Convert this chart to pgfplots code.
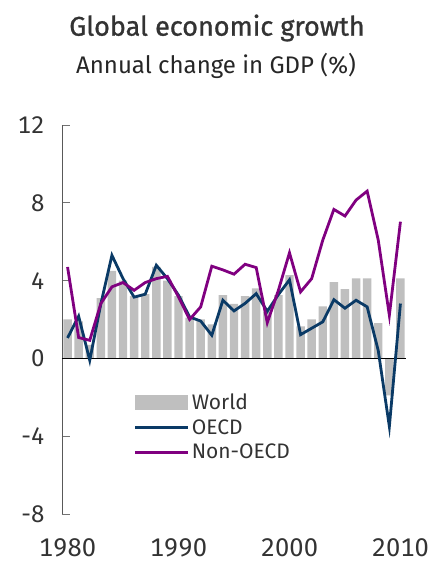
\documentclass[border=0pt]{standalone}
\usepackage{fontspec}
\setmainfont{Fira Sans}
\newfontfamily\titlefont{Fira Sans}[FakeBold=1.0]
\newfontfamily\tickfont{Fira Sans}[Numbers=Monospaced]
\usepackage{pgfplots}
\pgfplotsset{compat=1.18}
\usepackage{pgfplotstable}
\definecolor{barGrey}{HTML}{BFBFBF}
\definecolor{oecdBlue}{HTML}{0A3A66}
\definecolor{nonPurple}{HTML}{800080}
\definecolor{txtGrey}{HTML}{333333}
\pgfplotstableread{
year world oecd non
1980 2.0 1.05 4.7
1981 1.9 2.17 1.07
1982 0.7 -0.1 0.93
1983 3.1 2.8 2.82
1984 4.5 5.3 3.68
1985 4.0 4.1 3.9
1986 3.2 3.15 3.5
1987 3.3 3.3 3.9
1988 4.7 4.79 4.1
1989 4.0 4.1 4.22
1990 3.2 3.25 3.16
1991 2.1 2.13 2.0
1992 2.0 1.92 2.65
1993 1.75 1.19 4.74
1994 3.25 2.99 4.55
1995 2.8 2.44 4.33
1996 3.2 2.83 4.84
1997 3.6 3.33 4.67
1998 2.4 2.42 1.84
1999 3.25 3.28 3.5
2000 4.28 4.04 5.43
2001 1.65 1.22 3.42
2002 2.0 1.55 4.1
2003 2.68 1.88 6.08
2004 3.92 3.02 7.66
2005 3.56 2.58 7.32
2006 4.12 2.99 8.14
2007 4.12 2.65 8.6
2008 1.82 0.4 6.08
2009 -1.9 -3.5 2.22
2010 4.12 2.82 7.03
}\gdp
\begin{document}
\begin{tikzpicture}
\useasboundingbox (-62pt,-51pt) rectangle (373pt,514pt);
\begin{axis}[
  scale only axis, width=344pt, height=389pt,
  xmin=1979.5, xmax=2010.5, ymin=-8, ymax=12,
  axis y line*=left, axis x line*=bottom,
  x axis line style={draw=none},
  y axis line style={draw=black!65, line width=0.9pt},
  xtick={1980,1990,2000,2010},
  xticklabels={1980,1990,2000,2010},
  ytick={-8,-4,0,4,8,12},
  yticklabels={-8,-4,0,4,8,12},
  major x tick style={draw=none},
  major y tick style={draw=black!55, line width=0.9pt},
  ytick align=inside, major tick length=8pt,
  tick label style={text=txtGrey},
  yticklabel style={font=\tickfont\fontsize{24}{27}\selectfont, xshift=-14pt},
  xticklabel style={font=\tickfont\fontsize{25.5}{28}\selectfont, yshift=-21pt},
  legend style={at={(axis cs:1985.7,-1.6)}, anchor=north west, draw=none, fill=none,
    font=\fontsize{21}{24}\selectfont, text=txtGrey, row sep=4.5pt,
    legend cell align=left},
]
\addplot[ybar, bar width=0.76, bar shift=0pt, fill=barGrey, draw=none,
  legend image code/.code={\fill[barGrey] (0pt,-7.5pt) rectangle (53pt,7.5pt);}]
  table[x=year, y=world] {\gdp};
\addlegendentry{World}
\addplot[black, line width=0.9pt, forget plot] coordinates {(1979.5,0) (2010.5,0)};
\addplot[oecdBlue, line width=2.8pt, mark=none,
  legend image code/.code={\draw[oecdBlue, line width=2.8pt] (0pt,0pt) -- (53pt,0pt);}]
  table[x=year, y=oecd] {\gdp};
\addlegendentry{OECD}
\addplot[nonPurple, line width=2.8pt, mark=none,
  legend image code/.code={\draw[nonPurple, line width=2.8pt] (0pt,0pt) -- (53pt,0pt);}]
  table[x=year, y=non] {\gdp};
\addlegendentry{Non-OECD}
\end{axis}
\node[font=\titlefont\fontsize{27}{30}\selectfont, text=txtGrey] at (155pt,486pt) {Global economic growth};
\node[font=\fontsize{24}{28}\selectfont, text=black!85] at (154pt,448pt) {Annual change in GDP (\%)};
\end{tikzpicture}
\end{document}
